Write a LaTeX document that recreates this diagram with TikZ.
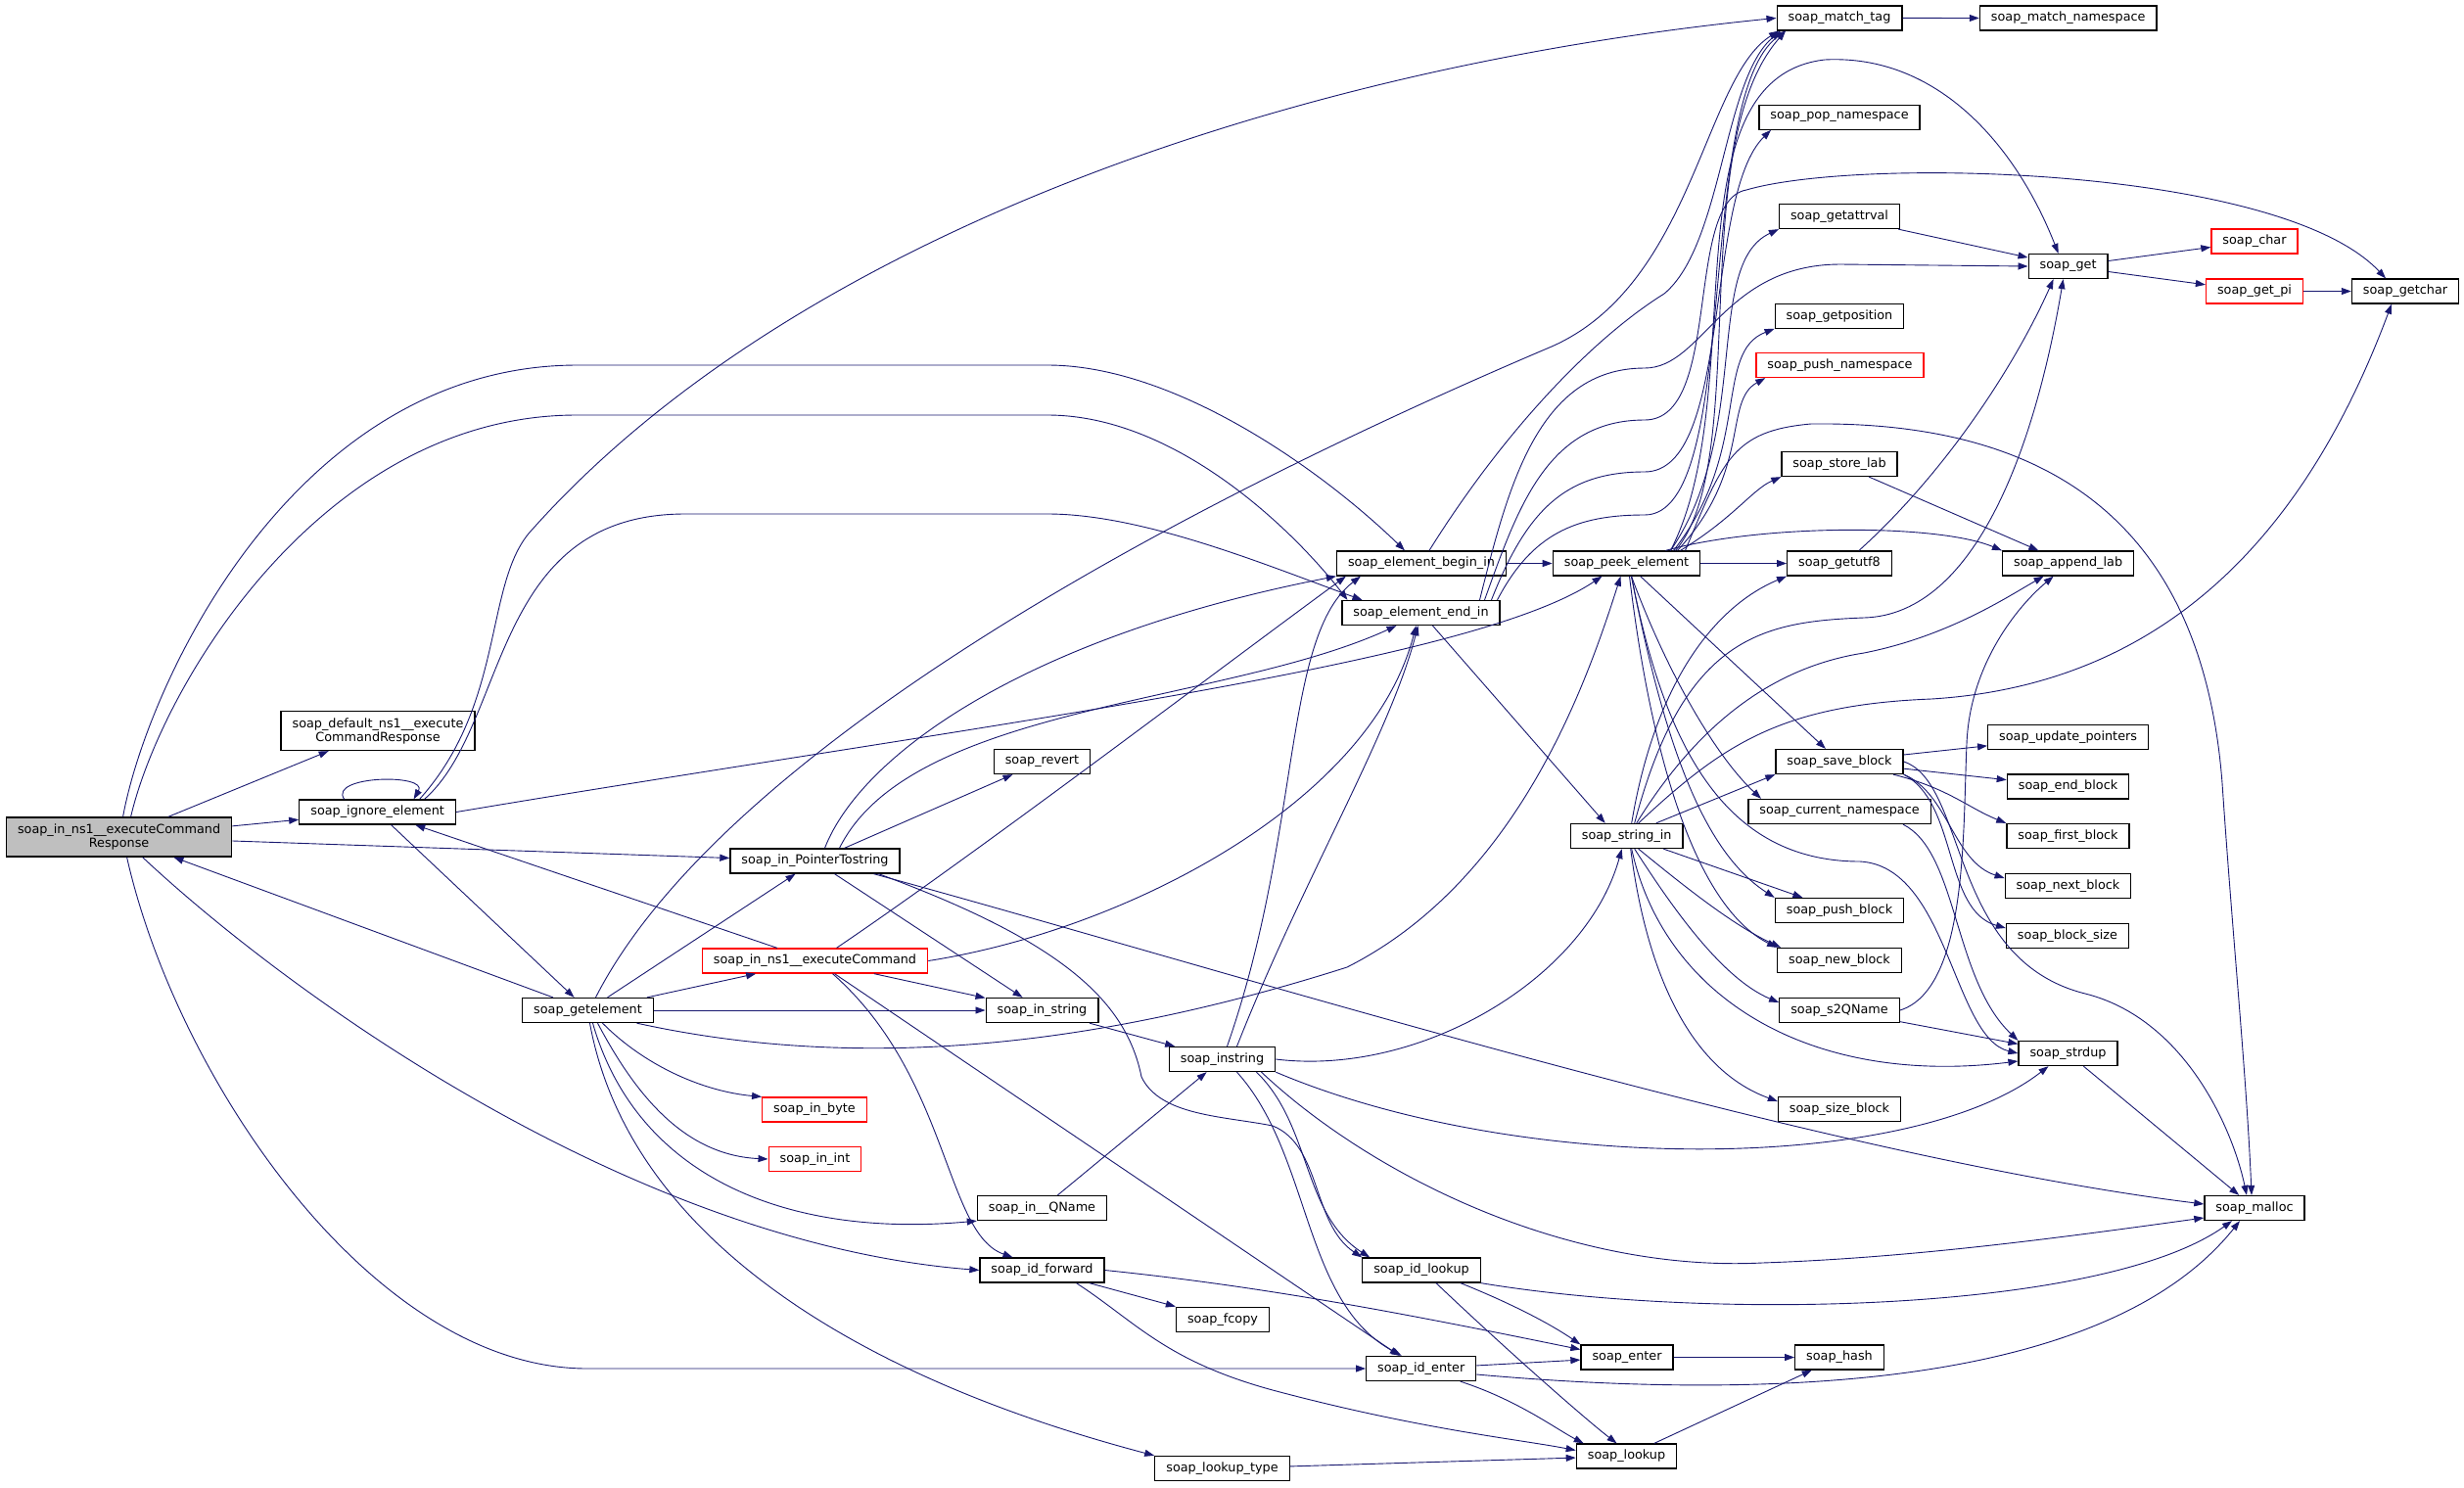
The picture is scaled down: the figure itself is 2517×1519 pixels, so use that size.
\documentclass[tikz,border=0pt]{standalone}
\usepackage{fontspec}
\setmainfont{DejaVu Sans}
\usetikzlibrary{arrows.meta,positioning}
\definecolor{callblue}{HTML}{191970}
\definecolor{mainfill}{HTML}{BFBFBF}
\tikzset{
  fn/.style={draw=black, line width=1.3pt, fill=white, minimum height=25pt, inner xsep=11.5pt, inner ysep=2pt, font=\fontsize{12.8}{14}\selectfont},
  fnred/.style={fn, draw=red},
  fntwo/.style={fn, align=center, minimum height=40pt},
  call/.style={draw=callblue, line width=0.9pt, -{Triangle[length=10pt,width=7pt]}}
}
\begin{document}
\begin{tikzpicture}[x=1pt, y=-1pt]
\fill[white] (0, 0) rectangle (2517, 1519);
\useasboundingbox (0, 0) rectangle (2517, 1519);

\node (main) at (121.6, 855) [fntwo, fill=mainfill] {soap\_in\_ns1\_\_executeCommand\\Response};
\node (default) at (386, 746.5) [fntwo] {soap\_default\_ns1\_\_execute\\CommandResponse};
\node (ignore) at (385.6, 829.5) [fn] {soap\_ignore\_element};
\node (getelem) at (600.5, 1032) [fn] {soap\_getelement};

\node (ptrstr) at (832.5, 879.5) [fn] {soap\_in\_PointerTostring};
\node (execcmd) at (832.5, 981.5) [fnred] {soap\_in\_ns1\_\_executeCommand};
\node (inbyte) at (832, 1133.5) [fnred] {soap\_in\_byte};
\node (inint) at (832.5, 1184) [fnred] {soap\_in\_int};

\node (revert) at (1064.5, 778) [fn] {soap\_revert};
\node (instr) at (1064.5, 1032) [fn] {soap\_in\_string};
\node (inqname) at (1064.5, 1234) [fn] {soap\_in\_\_QName};
\node (idfwd) at (1064.5, 1297.5) [fn] {soap\_id\_forward};

\node (instring) at (1248.5, 1082) [fn] {soap\_instring};
\node (fcopy) at (1249, 1347.7) [fn] {soap\_fcopy};
\node (lookuptype) at (1248.5, 1500) [fn] {soap\_lookup\_type};

\node (beginin) at (1452, 575.5) [fn] {soap\_element\_begin\_in};
\node (endin) at (1451.5, 626) [fn] {soap\_element\_end\_in};
\node (idlookup) at (1452, 1297.5) [fn] {soap\_id\_lookup};
\node (identer) at (1451.7, 1398) [fn] {soap\_id\_enter};

\node (peek) at (1661.5, 575.5) [fn] {soap\_peek\_element};
\node (strin) at (1661.7, 854) [fn] {soap\_string\_in};
\node (enter) at (1662, 1386.5) [fn] {soap\_enter};
\node (lookup) at (1661.5, 1487.5) [fn] {soap\_lookup};

\node (match) at (1879, 18.4) [fn] {soap\_match\_tag};
\node (pop) at (1879, 119.7) [fn] {soap\_pop\_namespace};
\node (getattrval) at (1879, 221) [fn] {soap\_getattrval};
\node (getposition) at (1879, 322.7) [fn] {soap\_getposition};
\node (pushns) at (1879.5, 373) [fnred] {soap\_push\_namespace};
\node (storelab) at (1879, 474) [fn] {soap\_store\_lab};
\node (getutf8) at (1879, 575.5) [fn] {soap\_getutf8};
\node (saveblock) at (1879, 778) [fn] {soap\_save\_block};
\node (curns) at (1879, 829) [fn] {soap\_current\_namespace};
\node (pushblock) at (1879, 930) [fn] {soap\_push\_block};
\node (newblock) at (1879, 981) [fn] {soap\_new\_block};
\node (s2q) at (1879, 1032) [fn] {soap\_s2QName};
\node (sizeblock) at (1879, 1133) [fn] {soap\_size\_block};
\node (hash) at (1879, 1386.5) [fn] {soap\_hash};

\node (matchns) at (2112.7, 18.5) [fn] {soap\_match\_namespace};
\node (get) at (2112.6, 272) [fn] {soap\_get};
\node (appendlab) at (2112.6, 575.5) [fn] {soap\_append\_lab};
\node (updptr) at (2112.6, 753) [fn] {soap\_update\_pointers};
\node (endblock) at (2112.5, 803.5) [fn] {soap\_end\_block};
\node (firstblock) at (2112.5, 854) [fn] {soap\_first\_block};
\node (nextblock) at (2112.5, 905) [fn] {soap\_next\_block};
\node (blocksize) at (2112, 956) [fn] {soap\_block\_size};
\node (strdup) at (2112.5, 1076) [fn] {soap\_strdup};

\node (schar) at (2303, 246.5) [fnred] {soap\_char};
\node (getpi) at (2303, 297.5) [fnred] {soap\_get\_pi};
\node (malloc) at (2303, 1234) [fn] {soap\_malloc};
\node (getchar) at (2457, 297.5) [fn] {soap\_getchar};

% soap_in_ns1__executeCommandResponse
\draw[call] (main) to (default);
\draw[call] (main) to (ignore);
\draw[call] (main) to (ptrstr);
\draw[call] ([xshift=4]main.north) .. controls (150, 700) and (300, 373) .. (590, 373) -- (1070, 373) .. controls (1200, 373) and (1350, 480) .. ([xshift=-17]beginin.north);
\draw[call] ([xshift=12]main.north) .. controls (165, 700) and (330, 424) .. (589, 424) -- (1070, 424) .. controls (1200, 424) and (1320, 540) .. ([xshift=-75]endin.north);
\draw[call] ([xshift=24]main.south) .. controls (300, 1020) and (650, 1270) .. (idfwd.west);
\draw[call] ([xshift=8]main.south) .. controls (180, 1100) and (380, 1398) .. (600, 1398) -- (identer.west);

% soap_getelement
\draw[call] (getelem) to (main);
\draw[call] (getelem) to (ptrstr);
\draw[call] (getelem) to (execcmd);
\draw[call] (getelem) to (instr);
\draw[call] ([xshift=50]getelem.south) .. controls (900, 1100) and (1150, 1060) .. (1376, 988) .. controls (1550, 900) and (1620, 700) .. ([xshift=-6]peek.south);
\draw[call] ([xshift=15]getelem.south) .. controls (660, 1090) and (720, 1115) .. (inbyte.north west);
\draw[call] ([xshift=10]getelem.south) .. controls (650, 1120) and (700, 1180) .. (inint.west);
\draw[call] ([xshift=5]getelem.south) .. controls (650, 1200) and (800, 1265) .. (inqname.south west);
\draw[call] ([xshift=2]getelem.south) .. controls (640, 1250) and (850, 1400) .. (lookuptype.north west);
\draw[call] ([xshift=8]getelem.north) .. controls (720, 800) and (1100, 560) .. (1585, 354) .. controls (1730, 290) and (1740, 80) .. ([xshift=-62]match.south);

% soap_ignore_element
\draw[call] ([xshift=-34]ignore.north) .. controls (335, 792) and (438, 790) .. ([xshift=37]ignore.north);
\draw[call] (ignore) to (getelem);
\draw[call] ([xshift=48]ignore.north) .. controls (520, 740) and (500, 525) .. (700, 525) -- (1070, 525) .. controls (1170, 525) and (1300, 580) .. ([xshift=-60]endin.north);
\draw[call] ([xshift=43]ignore.north) .. controls (515, 720) and (495, 600) .. (540, 545) .. controls (800, 250) and (1300, 70) .. (match.west);
\draw[call] (ignore.east) .. controls (1000, 740) and (1500, 680) .. ([xshift=-25]peek.south);

% soap_in_PointerTostring
\draw[call] (ptrstr) to (revert);
\draw[call] (ptrstr) to (instr);
\draw[call] ([xshift=10]ptrstr.north) .. controls (880, 770) and (1050, 650) .. (beginin.south west);
\draw[call] ([xshift=25]ptrstr.north) .. controls (930, 720) and (1250, 720) .. ([xshift=-25]endin.south);
\draw[call] ([xshift=65]ptrstr.south) .. controls (1080, 960) and (1150, 1020) .. (1166, 1100) .. controls (1185, 1140) and (1250, 1140) .. (1300, 1150) .. controls (1350, 1170) and (1340, 1250) .. (idlookup.north west);
\draw[call] ([xshift=60]ptrstr.south) .. controls (1250, 990) and (1850, 1180) .. ([yshift=4]malloc.west);

% soap_in_ns1__executeCommand
\draw[call] (execcmd) to (ignore);
\draw[call] (execcmd) to (instr);
\draw[call] ([xshift=22]execcmd.north) .. controls (1000, 870) and (1250, 680) .. ([xshift=10]beginin.south west);
\draw[call] (execcmd.east) .. controls (1150, 950) and (1400, 820) .. ([xshift=-5]endin.south);
\draw[call] ([xshift=18]execcmd.south) .. controls (970, 1100) and (965, 1260) .. ([xshift=-30]idfwd.north);
\draw[call] ([xshift=20]execcmd.south) -- ([xshift=-22]identer.north);

\draw[call] (instr) to (instring);
\draw[call] (inqname) to (instring);

% soap_instring
\draw[call] ([xshift=5]instring.north) .. controls (1330, 850) and (1310, 650) .. ([xshift=25]beginin.south west);
\draw[call] ([xshift=15]instring.north) .. controls (1330, 900) and (1420, 750) .. ([xshift=-3]endin.south);
\draw[call] (instring.east) .. controls (1450, 1100) and (1620, 1000) .. ([xshift=-5]strin.south);
\draw[call] ([xshift=35]instring.south) .. controls (1340, 1150) and (1330, 1240) .. ([xshift=8]idlookup.north west);
\draw[call] ([xshift=15]instring.south) .. controls (1340, 1180) and (1330, 1330) .. ([xshift=-20]identer.north);
\draw[call] (instring.south east) .. controls (1550, 1200) and (1950, 1200) .. ([xshift=-20]strdup.south);
\draw[call] ([xshift=40]instring.south) .. controls (1400, 1200) and (1600, 1300) .. (1800, 1290) .. controls (1950, 1285) and (2100, 1265) .. ([yshift=-10]malloc.west);

% soap_id_forward, soap_id_lookup, soap_id_enter
\draw[call] (idfwd) to (fcopy);
\draw[call] (idfwd.east) .. controls (1300, 1315) and (1450, 1345) .. ([yshift=8]enter.west);
\draw[call] ([xshift=35]idfwd.south) .. controls (1160, 1350) and (1190, 1390) .. (1300, 1420) .. controls (1450, 1460) and (1550, 1470) .. ([yshift=6]lookup.west);
\draw[call] ([xshift=40]idlookup.south) .. controls (1540, 1330) and (1580, 1350) .. (enter.north west);
\draw[call] ([xshift=15]idlookup.south) .. controls (1540, 1380) and (1620, 1450) .. ([xshift=-10]lookup.north);
\draw[call] (idlookup.south east) .. controls (1750, 1350) and (2150, 1340) .. ([xshift=-23]malloc.south);
\draw[call] (identer) to (enter);
\draw[call] ([xshift=40]identer.south) .. controls (1550, 1430) and (1590, 1460) .. ([xshift=8]lookup.north west);
\draw[call] ([yshift=-6]identer.east) .. controls (1800, 1430) and (2150, 1420) .. ([xshift=-15]malloc.south);
\draw[call] (lookuptype) to (lookup);
\draw[call] (enter) to (hash);
\draw[call] (lookup) to (hash);

% soap_element_begin_in, soap_element_end_in
\draw[call] (beginin) to (peek);
\draw[call] ([xshift=8]beginin.north) .. controls (1530, 450) and (1620, 350) .. (1700, 300) .. controls (1760, 250) and (1760, 80) .. ([xshift=-60]match.south);
\draw[call] ([xshift=12]endin.south) to ([xshift=-22]strin.north);
\draw[call] ([xshift=60]endin.north) .. controls (1540, 500) and (1570, 376) .. (1680, 376) .. controls (1740, 376) and (1760, 270) .. (1880, 270) -- (get.west);
\draw[call] ([xshift=65]endin.north) .. controls (1550, 520) and (1580, 429) .. (1680, 429) .. controls (1760, 429) and (1720, 205) .. (1784, 194) .. controls (1900, 160) and (2330, 170) .. ([xshift=-20]getchar.north);
\draw[call] ([xshift=72]endin.north) .. controls (1560, 520) and (1600, 482) .. (1680, 482) .. controls (1770, 482) and (1740, 200) .. ([xshift=-70]pop.south);
\draw[call] ([xshift=78]endin.north) .. controls (1565, 545) and (1610, 526) .. (1680, 526) .. controls (1780, 526) and (1730, 100) .. ([xshift=-55]match.south);

% soap_peek_element
\draw[call] (peek) to (getutf8);
\draw[call] (peek) to (saveblock);
\draw[call] ([xshift=5]peek.south) .. controls (1700, 680) and (1750, 770) .. ([xshift=-80]curns.north);
\draw[call] ([xshift=5]peek.south) .. controls (1700, 760) and (1740, 870) .. (pushblock.north west);
\draw[call] ([xshift=3]peek.south) .. controls (1690, 800) and (1740, 930) .. (newblock.north west);
\draw[call] ([xshift=5]peek.south) .. controls (1700, 760) and (1760, 880) .. (1900, 880) .. controls (1990, 885) and (1995, 1060) .. (strdup.west);
\draw[call] ([xshift=40]peek.north) .. controls (1800, 535) and (1980, 535) .. (appendlab.north west);
\draw[call] ([xshift=55]peek.north) .. controls (1770, 530) and (1790, 500) .. (storelab.south west);
\draw[call] ([xshift=45]peek.north) .. controls (1790, 440) and (1740, 270) .. (getattrval.south west);
\draw[call] ([xshift=48]peek.north) .. controls (1790, 460) and (1750, 360) .. (getposition.south west);
\draw[call] ([xshift=52]peek.north) .. controls (1790, 480) and (1760, 410) .. ([xshift=10]pushns.south west);
\draw[call] ([xshift=50]peek.north) .. controls (1790, 470) and (1720, 150) .. ([xshift=-55]match.south);
\draw[call] ([xshift=45]peek.north) .. controls (1790, 400) and (1700, 80) .. (1864, 61) .. controls (1980, 55) and (2060, 150) .. ([xshift=-10]get.north);
\draw[call] ([xshift=60]peek.north) .. controls (1760, 470) and (1770, 440) .. (1850, 433) .. controls (2100, 430) and (2250, 540) .. (2270, 800) .. controls (2280, 950) and (2295, 1100) .. ([xshift=-3]malloc.north);

% soap_string_in
\draw[call] ([xshift=5]strin.north) .. controls (1690, 700) and (1750, 620) .. (getutf8.south west);
\draw[call] ([xshift=8]strin.north) .. controls (1720, 650) and (1800, 635) .. (1904, 631) .. controls (2020, 628) and (2080, 450) .. ([xshift=-5]get.south);
\draw[call] ([xshift=10]strin.north) .. controls (1740, 730) and (1820, 680) .. (1904, 667) .. controls (1990, 650) and (2050, 610) .. ([xshift=-25]appendlab.south);
\draw[call] ([xshift=12]strin.north) .. controls (1760, 760) and (1820, 720) .. (1973, 714) .. controls (2200, 700) and (2350, 560) .. ([xshift=-14]getchar.south);
\draw[call] ([xshift=30]strin.north) to (saveblock.south west);
\draw[call] (strin) to (pushblock);
\draw[call] ([xshift=12]strin.south) .. controls (1720, 905) and (1770, 945) .. ([xshift=4]newblock.north west);
\draw[call] ([xshift=8]strin.south) .. controls (1710, 930) and (1760, 1000) .. ([yshift=8]s2q.west);
\draw[call] ([xshift=5]strin.south) .. controls (1700, 1020) and (1850, 1110) .. ([yshift=-8]strdup.west);
\draw[call] ([xshift=4]strin.south) .. controls (1680, 980) and (1720, 1090) .. ([yshift=8]sizeblock.west);

% right columns
\draw[call] (s2q) to (strdup);
\draw[call] (s2q.east) .. controls (2010, 1010) and (2005, 850) .. (2009, 760) .. controls (2012, 680) and (2060, 620) .. ([xshift=-15]appendlab.south);
\draw[call] ([xshift=65]curns.south) .. controls (2000, 870) and (1995, 1000) .. (strdup.north west);
\draw[call] (saveblock) to (updptr);
\draw[call] (saveblock) to (endblock);
\draw[call] ([xshift=55]saveblock.south) .. controls (1990, 805) and (2010, 825) .. (firstblock.north west);
\draw[call] (saveblock.south east) .. controls (1990, 810) and (1995, 880) .. ([yshift=8]nextblock.west);
\draw[call] (saveblock.south east) .. controls (2000, 820) and (1985, 930) .. ([yshift=8]blocksize.west);
\draw[call] (saveblock.east) .. controls (2010, 800) and (1990, 980) .. (2130, 1015) .. controls (2230, 1040) and (2280, 1150) .. ([xshift=-8]malloc.north);
\draw[call] ([xshift=20]getutf8.north) .. controls (1990, 480) and (2060, 370) .. ([xshift=-15]get.south);
\draw[call] (getattrval) to (get);
\draw[call] (storelab) to (appendlab);
\draw[call] (strdup) to (malloc);
\draw[call] (get) to (schar);
\draw[call] (get) to (getpi);
\draw[call] (getpi) to (getchar);
\draw[call] (match) to (matchns);
\end{tikzpicture}
\end{document}
